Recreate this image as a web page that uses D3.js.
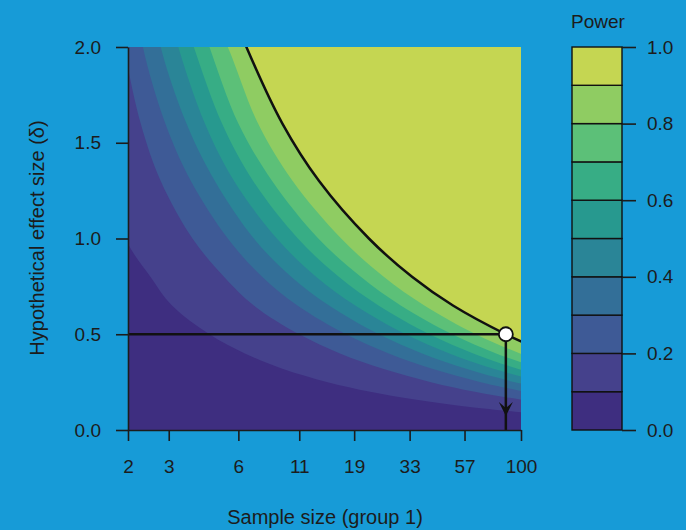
<!DOCTYPE html>
<html>
<head>
<meta charset="utf-8">
<script src="https://d3js.org/d3.v7.min.js"></script>
<style>
  body { margin: 0; background: #179bd7; }
  text { font-family: "Liberation Sans", Arial, sans-serif; fill: #1c1c1c; }
</style>
</head>
<body>
<script>
var effectSizes = [2.2, 2.0, 1.6, 1.3, 1.0, 0.8, 0.65, 0.5, 0.4, 0.32, 0.25, 0.2, 0.16, 0.12, 0.09];

// sample size where power reaches each level, one array per level
var n10 = [1.35, 1.4, 1.5, 1.7, 1.95, 2.5, 3.1, 4.5, 6.4, 9.3, 14.6, 22.3, 34.2, 60.0, 105.9];
var n20 = [1.8, 1.92, 2.27, 2.77, 3.8, 5.2, 7.0, 11.0, 16.5, 25.3, 40.8, 63.2, 98.1, 173.6];
var n30 = [2.2, 2.32, 2.9, 3.74, 5.4, 7.6, 10.8, 17.5, 26.8, 41.3, 67.0, 104.1];
var n40 = [2.6, 2.77, 3.58, 4.75, 7.0, 10.15, 14.8, 24.3, 37.4, 57.9, 94.2, 146.7];
var n50 = [3.0, 3.3, 4.3, 5.75, 8.8, 13.0, 19.2, 31.7, 49.0, 76.0, 123.9];
var n60 = [3.4, 3.85, 5.1, 6.95, 10.85, 16.3, 24.2, 40.2, 62.2, 96.7, 157.7];
var n70 = [3.95, 4.5, 6.0, 8.4, 13.3, 20.3, 30.2, 50.4, 78.1, 121.5];
var n80 = [4.5, 5.4, 7.3, 10.3, 16.7, 25.5, 38.2, 63.8, 99.1, 154];
var n90 = [5.6, 6.5, 9.3, 13.4, 22.0, 33.8, 50.8, 86, 132];

var powerLevels = [0.1, 0.2, 0.3, 0.4, 0.5, 0.6, 0.7, 0.8, 0.9];
var contourN = [n10, n20, n30, n40, n50, n60, n70, n80, n90];

var xTicks = [2, 3, 6, 11, 19, 33, 57, 100];
var yTicks = [0, 0.5, 1.0, 1.5, 2.0];
var powerTicks = [0, 0.2, 0.4, 0.6, 0.8, 1.0];

// highlighted design: d = 0.5 reaches 90% power
var targetD = 0.5;
var targetN = 86;

var bandColors = ["#3e2e80", "#45418c", "#3e5a96", "#336f98", "#2a8597",
                  "#27998f", "#37ad85", "#5cc078", "#8fcc62", "#c5d652"];

var W = 686, H = 530;
var svg = d3.select("body").append("svg").attr("width", W).attr("height", H);

var x = d3.scaleLog().domain([2, 100]).range([128, 521]);
var y = d3.scaleLinear().domain([0, 2]).range([430, 47]);

svg.append("clipPath").attr("id", "plotClip")
  .append("rect")
  .attr("x", 128).attr("y", 47)
  .attr("width", 521 - 128).attr("height", 430 - 47);

var plot = svg.append("g").attr("clip-path", "url(#plotClip)");

plot.append("rect")
  .attr("x", 128).attr("y", 47)
  .attr("width", 521 - 128).attr("height", 430 - 47)
  .attr("fill", bandColors[0]);

var line = d3.line()
  .x(function(d){ return x(d[0]); })
  .y(function(d){ return y(d[1]); })
  .curve(d3.curveCatmullRom);

function contourPts(ns) {
  return ns.map(function(n, i){ return [n, effectSizes[i]]; });
}

// fill every "power >= level" region in order, the nested regions give the bands
contourN.forEach(function(ns, k) {
  var pts = contourPts(ns);
  var last = pts[pts.length - 1];
  var path = line(pts) +
    "L" + x(1000) + "," + y(last[1]) +
    "L" + x(1000) + "," + y(2.5) +
    "L" + x(pts[0][0]) + "," + y(2.5) + "Z";
  plot.append("path").attr("d", path).attr("fill", bandColors[k + 1]);
});

// 90% contour
plot.append("path")
  .attr("d", line(contourPts(n90)))
  .attr("fill", "none")
  .attr("stroke", "#111")
  .attr("stroke-width", 2.5);

// reference lines
plot.append("line")
  .attr("x1", x(2)).attr("x2", x(targetN))
  .attr("y1", y(targetD)).attr("y2", y(targetD))
  .attr("stroke", "#111").attr("stroke-width", 2.5);
plot.append("line")
  .attr("x1", x(targetN)).attr("x2", x(targetN))
  .attr("y1", y(targetD)).attr("y2", y(0))
  .attr("stroke", "#111").attr("stroke-width", 2.5);

var ax = x(targetN), tipY = 416;
plot.append("path")
  .attr("d", "M" + (ax - 7) + "," + (tipY - 14) + "L" + ax + "," + tipY +
             "L" + (ax + 7) + "," + (tipY - 14) + "L" + ax + "," + (tipY - 8) + "Z")
  .attr("fill", "#111");

plot.append("circle")
  .attr("cx", x(targetN)).attr("cy", y(targetD)).attr("r", 7)
  .attr("fill", "white").attr("stroke", "#111").attr("stroke-width", 1.8);

// axes
var xAxis = d3.axisBottom(x).tickValues(xTicks).tickFormat(d3.format("d"))
  .tickSize(11).tickSizeOuter(0).tickPadding(19);
var yAxis = d3.axisLeft(y).tickValues(yTicks).tickFormat(d3.format(".1f"))
  .tickSize(12).tickSizeOuter(0).tickPadding(15);

var gx = svg.append("g").attr("transform", "translate(0,430)").call(xAxis);
var gy = svg.append("g").attr("transform", "translate(128,0)").call(yAxis);

[gx, gy].forEach(function(g){
  g.select(".domain").attr("stroke", "#1c1c1c").attr("stroke-width", 1.6);
  g.selectAll(".tick line").attr("stroke", "#1c1c1c").attr("stroke-width", 1.6);
  g.selectAll(".tick text").attr("font-size", 19).attr("fill", "#1c1c1c")
    .attr("font-family", "Liberation Sans, Arial, sans-serif");
});

svg.append("text")
  .attr("x", 325).attr("y", 524)
  .attr("text-anchor", "middle").attr("font-size", 20)
  .text("Sample size (group 1)");

svg.append("text")
  .attr("transform", "translate(44,238) rotate(-90)")
  .attr("text-anchor", "middle").attr("font-size", 20)
  .text("Hypothetical effect size (δ)");

// colour bar
var cb = d3.scaleLinear().domain([0, 1]).range([430, 47]);
var cbX = 572, cbW = 50;
var cbG = svg.append("g");
d3.range(10).forEach(function(i){
  cbG.append("rect")
    .attr("x", cbX).attr("y", cb((i + 1) / 10))
    .attr("width", cbW).attr("height", cb(i / 10) - cb((i + 1) / 10))
    .attr("fill", bandColors[i])
    .attr("stroke", "#111").attr("stroke-width", 1.4);
});

var cbAxis = d3.axisRight(cb).tickValues(powerTicks).tickFormat(d3.format(".1f"))
  .tickSize(14).tickSizeOuter(0).tickPadding(11);
var gcb = svg.append("g").attr("transform", "translate(" + (cbX + cbW) + ",0)").call(cbAxis);
gcb.select(".domain").remove();
gcb.selectAll(".tick line").attr("stroke", "#1c1c1c").attr("stroke-width", 1.6);
gcb.selectAll(".tick text").attr("font-size", 19).attr("fill", "#1c1c1c")
  .attr("font-family", "Liberation Sans, Arial, sans-serif");

svg.append("text")
  .attr("x", 598).attr("y", 28)
  .attr("text-anchor", "middle").attr("font-size", 19)
  .text("Power");
</script>
</body>
</html>
